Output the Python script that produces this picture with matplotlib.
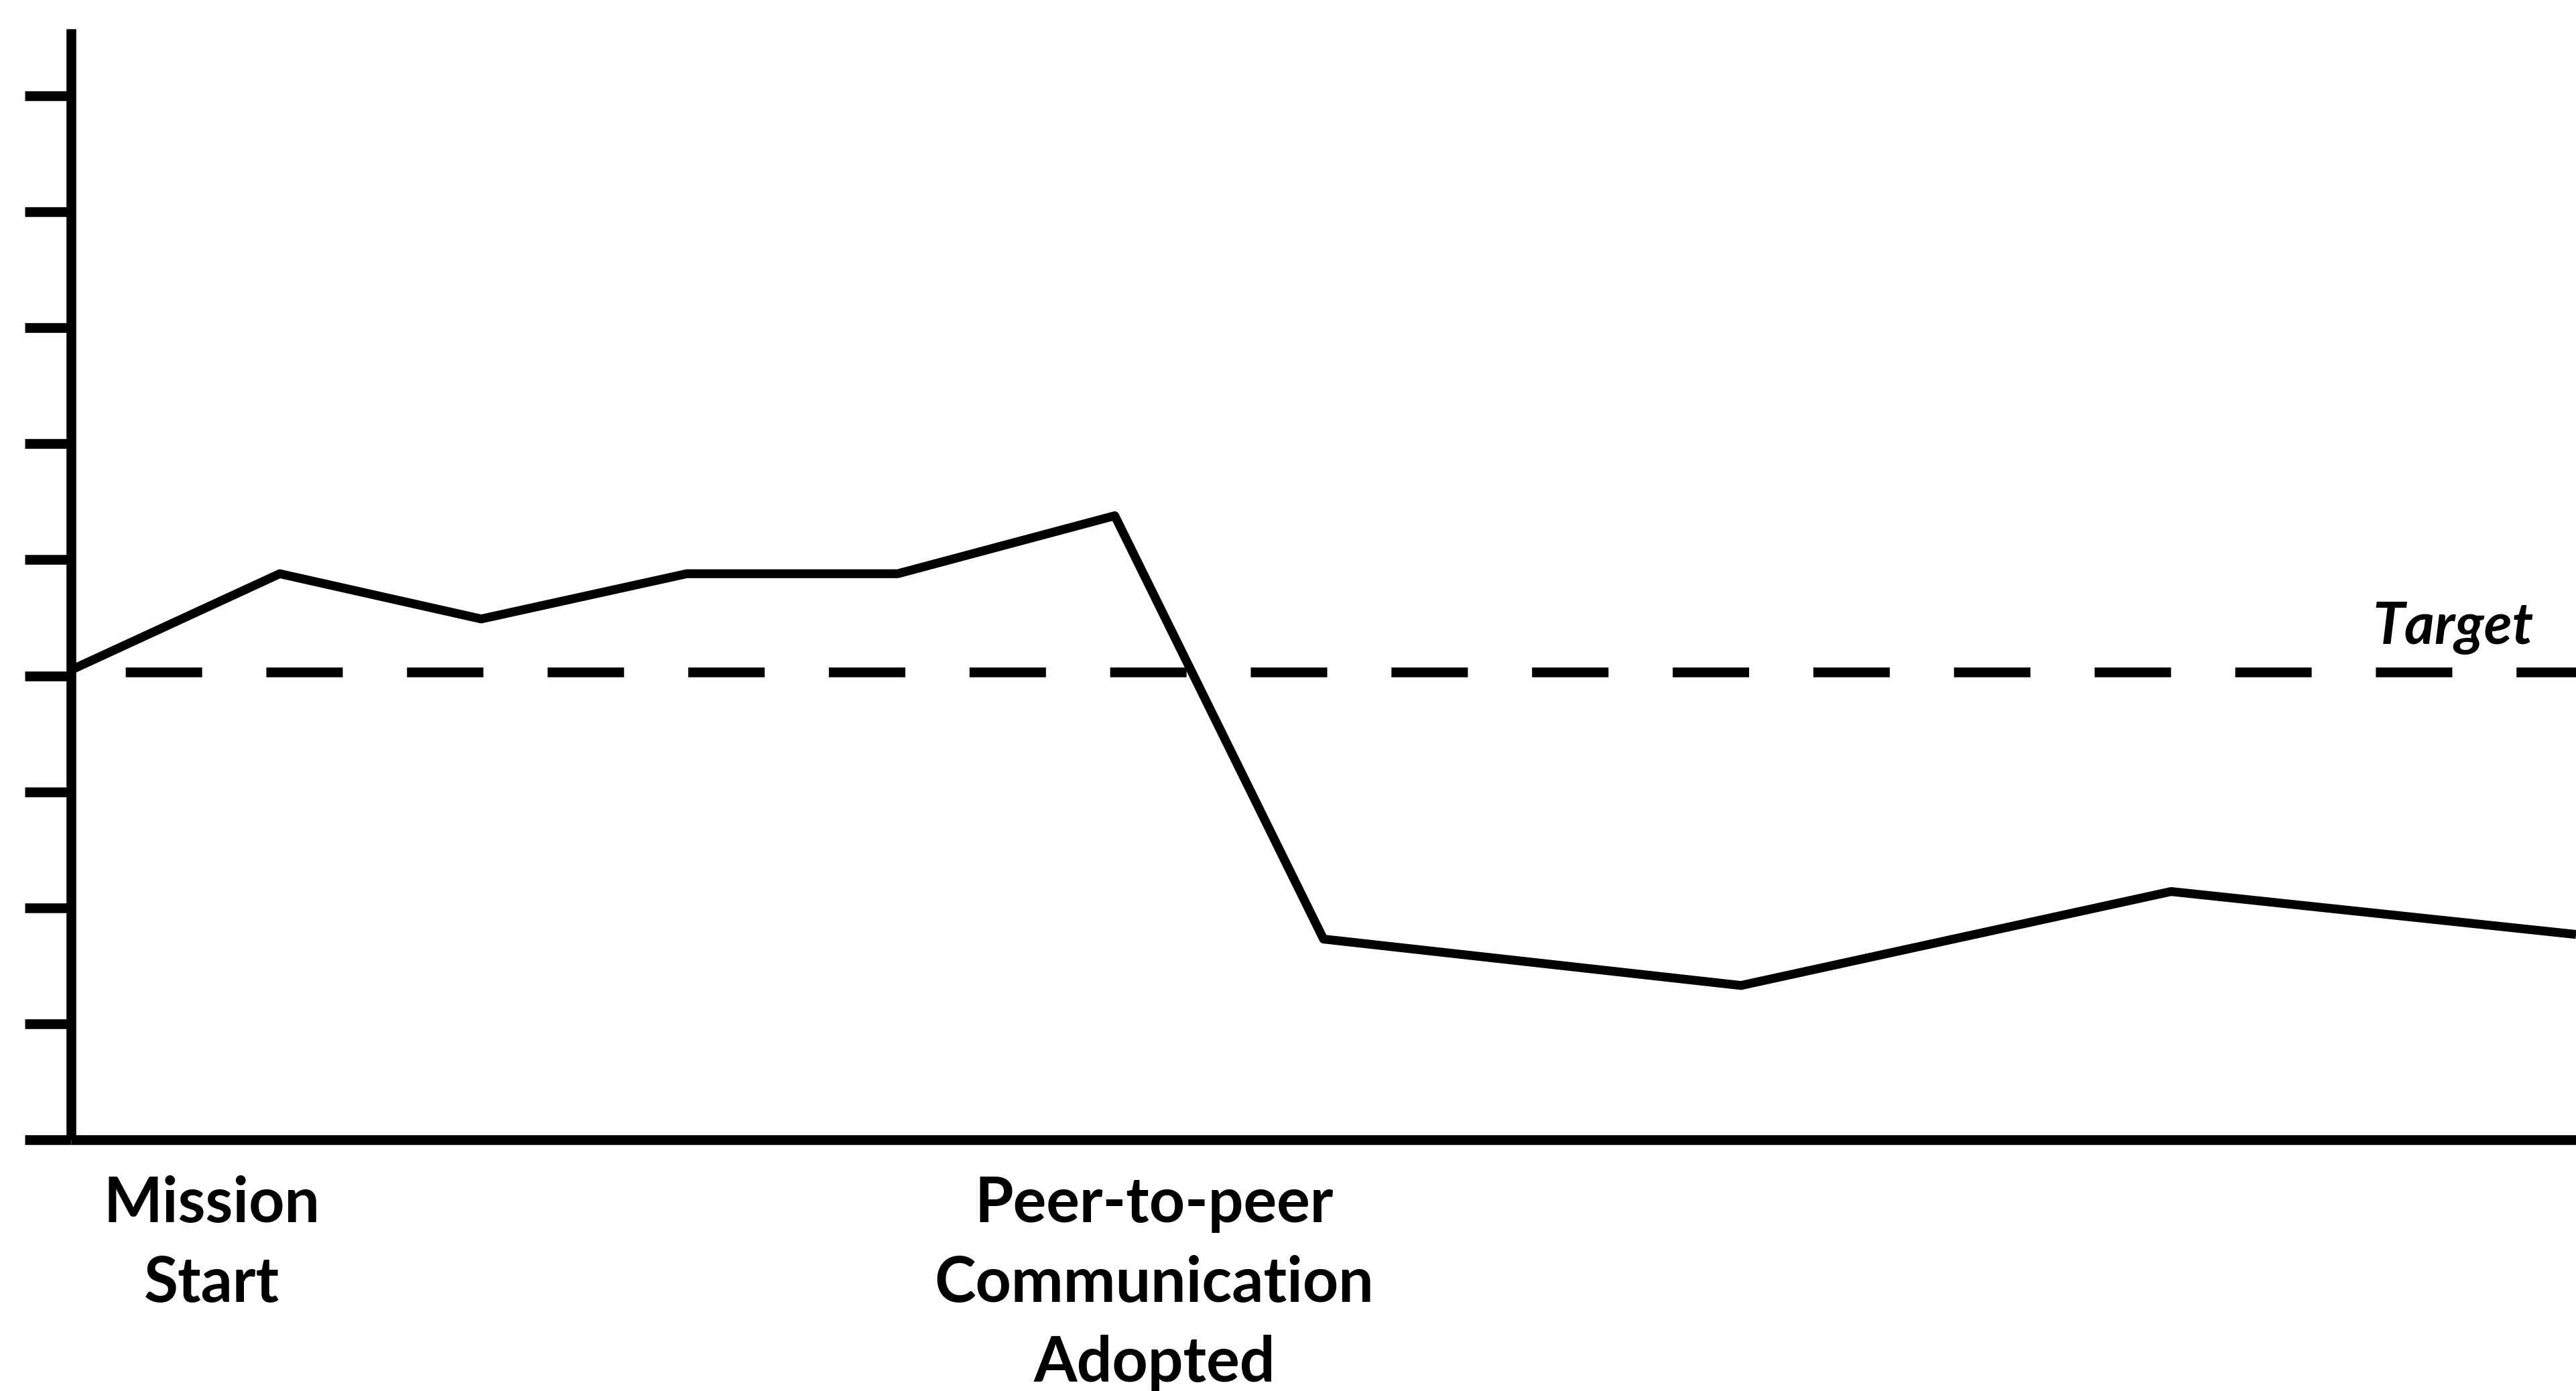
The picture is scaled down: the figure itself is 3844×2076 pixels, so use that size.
import matplotlib
matplotlib.use("Agg")
import matplotlib.pyplot as plt
from matplotlib.transforms import blended_transform_factory

# Performance by period, with the target level
periods = [0, 1.0, 1.965, 2.95, 3.96, 5.0, 6.0, 8.0, 10.06, 12]
values = [4.05, 4.88, 4.49, 4.88, 4.88, 5.38, 1.73, 1.33, 2.14, 1.77]
target = 4.03
y_ticks = [0, 1, 2, 3, 4, 5, 6, 7, 8, 9]

# Event labels under the time axis (one entry per text line)
event_x = [0.674, 5.19]
event_lines = [["Mission", "Start"], ["Peer-to-peer", "Communication", "Adopted"]]
target_label = "Target"

W, H, DPI = 3844, 2076, 100
plt.rcParams["lines.scale_dashes"] = False
plt.rcParams["font.family"] = ["Lato", "DejaVu Sans"]

fig = plt.figure(figsize=(W / DPI, H / DPI), dpi=DPI, facecolor="white")
ax = fig.add_axes([106 / W, 375 / H, 1 - 106 / W, (2033 - 375) / H])

ax.plot(periods, values, color="black", lw=9.5, solid_joinstyle="round",
        solid_capstyle="butt", zorder=3)
ax.axhline(target, color="black", lw=10.5,
           linestyle=(92.7, (82.1, 69.0)), dash_capstyle="butt", zorder=2)

ax.set_xlim(0, 12)
ax.set_ylim(0, 9.578)
ax.set_yticks(y_ticks)
ax.set_yticklabels([])
ax.set_xticks([])
ax.tick_params(axis="y", direction="out", length=50, width=10.5, color="black")

for side in ("top", "right"):
    ax.spines[side].set_visible(False)
for side in ("left", "bottom"):
    ax.spines[side].set_linewidth(10.5)
    ax.spines[side].set_color("black")
    ax.spines[side].set_capstyle("butt")

ax.text(11.41, 4.275, target_label, ha="center", va="baseline",
        fontsize=62, fontweight="bold", fontstyle="italic")

trans = blended_transform_factory(ax.transData, fig.transFigure)
first_baseline = 1824
line_step = 119
for x, lines in zip(event_x, event_lines):
    for i, line in enumerate(lines):
        y_px = first_baseline + i * line_step
        ax.text(x, 1 - y_px / H, line, transform=trans, ha="center",
                va="baseline", fontsize=67, fontweight="bold", clip_on=False)

fig.savefig("out.png", dpi=DPI, facecolor="white")
